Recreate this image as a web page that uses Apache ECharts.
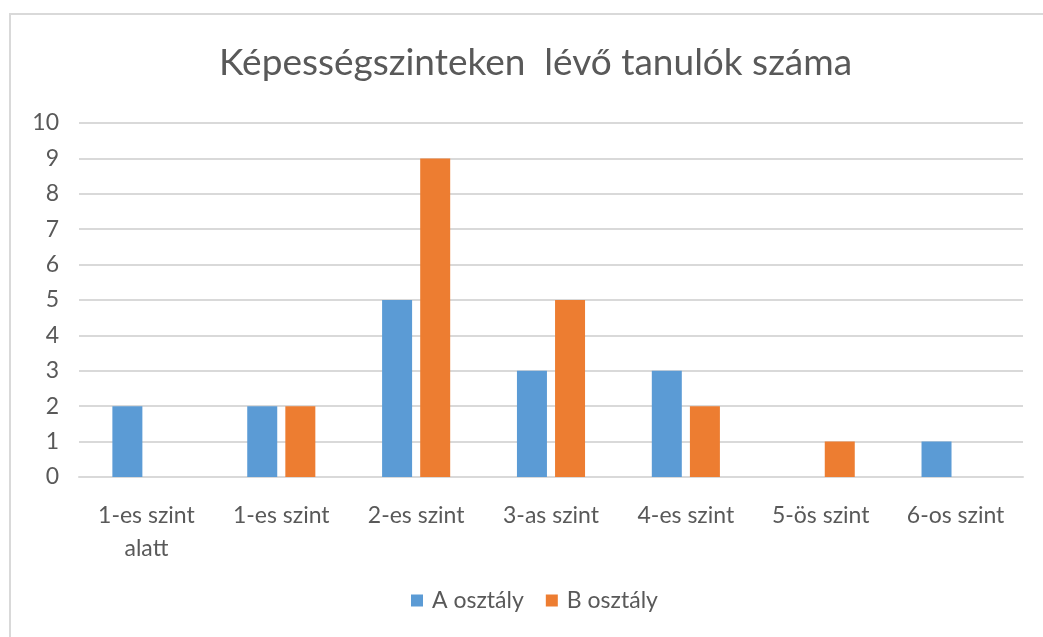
<!DOCTYPE html>
<html lang="hu">
<head>
  <meta charset="UTF-8">
  <title>Képességszinteken lévő tanulók száma</title>
  <style>
    html, body { margin: 0; padding: 0; background: #fff; }
    #chart { width: 1043px; height: 637px; }
  </style>
  <script src="https://cdn.jsdelivr.net/npm/echarts@6/dist/echarts.min.js"></script>
</head>
<body>
  <div id="chart"></div>
  <script>
    // adatok
    var categories = ['1-es szint\nalatt', '1-es szint', '2-es szint', '3-as szint', '4-es szint', '5-ös szint', '6-os szint'];
    var seriesNames = ['A osztály', 'B osztály'];
    var aValues = [2, 2, 5, 3, 3, 0, 1];
    var bValues = [0, 2, 9, 5, 2, 1, 0];

    var font = 'Lato, "Open Sans", sans-serif';
    var myChart = echarts.init(document.getElementById('chart'));

    var option = {
      textStyle: { fontFamily: font },
      color: ['#5B9BD5', '#ED7D31'],
      graphic: [{
        type: 'rect',
        shape: { x: 10, y: 14, width: 1100, height: 700 },
        style: { fill: 'none', stroke: '#D9D9D9', lineWidth: 2 },
        silent: true
      }],
      title: {
        text: 'Képességszinteken  lévő tanulók száma',
        left: 214,
        top: 40,
        textStyle: { fontFamily: font, fontSize: 37, fontWeight: 'normal', color: '#595959' }
      },
      legend: {
        data: seriesNames,
        bottom: 20,
        left: 406,
        itemWidth: 12,
        itemHeight: 12,
        itemGap: 22,
        icon: 'rect',
        textStyle: { fontFamily: font, fontSize: 23, color: '#595959', padding: [0, 0, 0, 4] }
      },
      grid: { left: 79, right: 20, top: 123, bottom: 160 },
      xAxis: {
        type: 'category',
        data: categories,
        axisLine: { lineStyle: { color: '#D9D9D9', width: 2 } },
        axisTick: { show: false },
        axisLabel: { fontFamily: font, fontSize: 23, color: '#595959', margin: 22, lineHeight: 33, interval: 0 }
      },
      yAxis: {
        type: 'value',
        min: 0,
        max: 10,
        interval: 1,
        axisLine: { show: false },
        axisTick: { show: false },
        splitLine: { lineStyle: { color: '#D9D9D9', width: 2 } },
        axisLabel: { fontFamily: font, fontSize: 23, color: '#595959', margin: 20 }
      },
      series: [{
        name: seriesNames[0],
        type: 'bar',
        data: aValues,
        barWidth: 30,
        barGap: '27%'
      }, {
        name: seriesNames[1],
        type: 'bar',
        data: bValues,
        barWidth: 30,
        barGap: '27%'
      }]
    };
    myChart.setOption(option);
  </script>
</body>
</html>
